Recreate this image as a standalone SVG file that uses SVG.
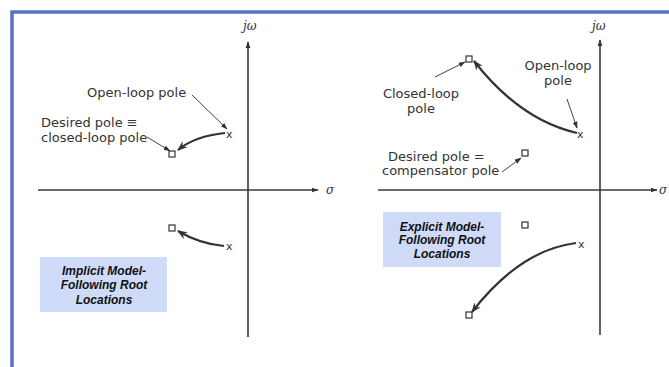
<svg xmlns="http://www.w3.org/2000/svg" width="669" height="367" viewBox="0 0 669 367">
<style>
.lbl{font-family:"DejaVu Sans","Liberation Sans",sans-serif;font-size:13px;fill:#333;}
.ax{stroke:#3a3a3a;stroke-width:1.6;fill:none;}
.sym{font-family:"DejaVu Serif","Liberation Serif",serif;font-style:italic;font-size:12px;fill:#333;}
.box{fill:#d0dbf9;}
.boxt{font-family:"Liberation Sans",Arial,sans-serif;font-weight:bold;font-style:italic;font-size:12px;fill:#111;}
.pole{fill:none;stroke:#333;stroke-width:1.2;}
.xm{font-family:"DejaVu Sans",sans-serif;font-size:11px;fill:#333;}
.thin{stroke:#444;stroke-width:1;fill:none;}
.thick{stroke:#333;stroke-width:2.2;fill:none;}
.frame{stroke:#5a72c0;stroke-width:3.5;fill:none;}
</style>
<defs>
<marker id="ah" viewBox="0 0 10 10" refX="9" refY="5" markerWidth="7" markerHeight="7" orient="auto" markerUnits="userSpaceOnUse">
<path d="M0,1.5 L10,5 L0,8.5 Z" fill="#333"/>
</marker>
<marker id="ahb" viewBox="0 0 10 10" refX="9" refY="5" markerWidth="10" markerHeight="10" orient="auto" markerUnits="userSpaceOnUse">
<path d="M0,1 L10,5 L0,9 L3,5 Z" fill="#333"/>
</marker>
</defs>
<rect width="669" height="367" fill="#fff"/>
<path class="frame" d="M12,367 L12,12 L669,12"/>

<g id="left-axes">
<line class="ax" x1="38" y1="190" x2="318" y2="190" marker-end="url(#ah)"/>
<line class="ax" x1="248" y1="337" x2="248" y2="42" marker-end="url(#ah)"/>
<text class="sym" x="243" y="30">jω</text>
<text class="sym" x="326" y="194">σ</text>
</g>
<g id="right-axes">
<line class="ax" x1="378" y1="190" x2="657" y2="190" marker-end="url(#ah)"/>
<line class="ax" x1="600" y1="335" x2="600" y2="40" marker-end="url(#ah)"/>
<text class="sym" x="592" y="30">jω</text>
<text class="sym" x="659" y="194">σ</text>
</g>

<g id="left-open-loop-pole"><text class="xm" x="226" y="138">x</text></g>
<g id="left-desired-pole"><rect class="pole" x="169" y="151" width="6" height="6"/></g>
<g id="left-lower-open-loop-pole"><text class="xm" x="226" y="250">x</text></g>
<g id="left-lower-pole"><rect class="pole" x="169" y="225" width="6" height="6"/></g>
<g id="left-label-open"><text class="lbl" x="87" y="97">Open-loop pole</text></g>
<g id="left-label-desired">
<text class="lbl" x="41" y="127">Desired pole ≡</text>
<text class="lbl" x="41" y="142">closed-loop pole</text>
</g>
<g id="left-box">
<rect class="box" x="40" y="257" width="127" height="55"/>
<text class="boxt" text-anchor="middle" x="104" y="275">Implicit Model-</text>
<text class="boxt" text-anchor="middle" x="104" y="289">Following Root</text>
<text class="boxt" text-anchor="middle" x="104" y="304">Locations</text>
</g>

<g id="right-open-loop-pole"><text class="xm" x="577" y="138">x</text></g>
<g id="right-closed-loop-pole"><rect class="pole" x="466" y="56" width="6" height="6"/></g>
<g id="right-desired-pole"><rect class="pole" x="522" y="150" width="6" height="6"/></g>
<g id="right-lower-desired-pole"><rect class="pole" x="522" y="222" width="6" height="6"/></g>
<g id="right-lower-open-loop-pole"><text class="xm" x="578" y="248">x</text></g>
<g id="right-lower-closed-loop-pole"><rect class="pole" x="466" y="312" width="6" height="6" stroke="#bbb"/></g>
<g id="right-label-closed">
<text class="lbl" text-anchor="middle" x="421" y="98">Closed-loop</text>
<text class="lbl" text-anchor="middle" x="421" y="113">pole</text>
</g>
<g id="right-label-open">
<text class="lbl" text-anchor="middle" x="558" y="70">Open-loop</text>
<text class="lbl" text-anchor="middle" x="558" y="85">pole</text>
</g>
<g id="right-label-desired">
<text class="lbl" x="388" y="161">Desired pole =</text>
<text class="lbl" x="382" y="175">compensator pole</text>
</g>
<g id="right-box">
<rect class="box" x="383" y="212" width="118" height="55"/>
<text class="boxt" text-anchor="middle" x="442" y="231">Explicit Model-</text>
<text class="boxt" text-anchor="middle" x="442" y="244">Following Root</text>
<text class="boxt" text-anchor="middle" x="442" y="258">Locations</text>
</g>

<g id="connectors">
<path class="thin" d="M192,95 L227,129" marker-end="url(#ah)"/>
<path class="thin" d="M147,137 L170,151" marker-end="url(#ah)"/>
<path class="thick" d="M225,133 Q195,136 178,150" marker-end="url(#ahb)"/>
<path class="thick" d="M224,246 Q200,244 178,231" marker-end="url(#ahb)"/>
<path class="thin" d="M435,77 L465,62" marker-end="url(#ah)"/>
<path class="thin" d="M567,99 L577,128" marker-end="url(#ah)"/>
<path class="thick" d="M577,133 Q520,120 474,61" marker-end="url(#ahb)"/>
<path class="thin" d="M502,172 L521,158" marker-end="url(#ah)"/>
<path class="thick" d="M576,243 Q520,250 472,312" marker-end="url(#ahb)"/>
</g>
</svg>
